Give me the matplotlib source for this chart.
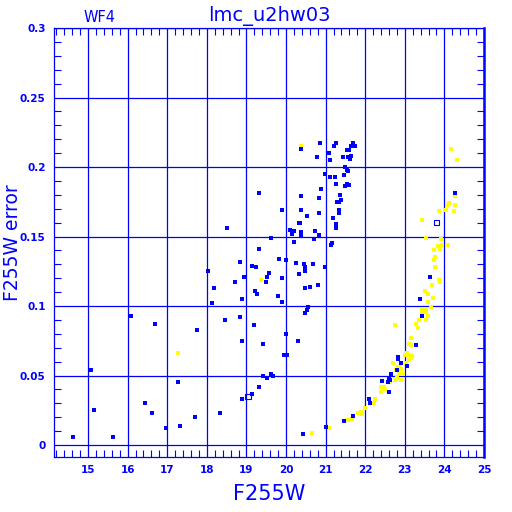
import matplotlib

matplotlib.use("Agg")
import matplotlib.pyplot as plt
from matplotlib.ticker import MultipleLocator, FixedLocator
import numpy as np

BLUE = "#0000ff"
YELLOW = "#ffff00"

# blue points: (F255W, F255W error)
blue_mag = [
    14.63, 15.08, 15.14, 15.62, 16.09, 16.44, 16.62, 16.68, 16.96, 17.28,
    17.33, 17.69, 17.74, 18.13, 18.17, 18.32, 18.47, 18.70, 19.33, 19.90,
    20.34, 18.52, 20.09, 20.19, 20.14, 19.61, 20.19, 19.33, 19.81, 20.00,
    20.26, 18.83, 19.15, 19.23, 18.03, 19.56, 20.32, 18.93, 19.53, 19.90,
    19.50, 19.21, 19.26, 19.79, 18.88, 19.89, 18.85, 19.20, 20.39, 20.86,
    21.20, 21.25, 21.63, 21.70, 21.73, 21.08, 21.53, 21.59, 20.78, 21.43,
    21.56, 21.65, 21.61, 21.11, 21.49, 21.53, 21.56, 20.99, 21.11, 21.24,
    21.46, 21.53, 21.58, 21.48, 21.26, 20.88, 21.36, 20.39, 20.83, 21.39,
    21.34, 21.30, 20.39, 21.33, 21.35, 20.83, 20.53, 21.18, 20.35, 21.26,
    21.26, 20.73, 20.39, 20.83, 20.38, 20.70, 21.15, 21.13, 20.56, 20.53,
    20.49, 20.00, 18.88, 19.43, 20.29, 19.95, 20.03, 19.41, 19.61, 19.66,
    19.51, 19.31, 19.13, 18.90, 20.42, 21.02, 20.45, 20.67, 20.49, 20.47,
    20.99, 20.47, 20.60, 20.82, 22.84, 22.82, 22.65, 22.62, 22.42, 22.59,
    22.09, 22.12, 21.70, 21.46, 24.28, 23.64, 23.38, 23.43, 23.28, 22.90,
    23.05, 22.59, 22.57, 22.81,
]
blue_err = [
    0.006, 0.054, 0.025, 0.006, 0.093, 0.030, 0.023, 0.087, 0.012, 0.045,
    0.014, 0.020, 0.083, 0.102, 0.113, 0.023, 0.090, 0.117, 0.181, 0.169,
    0.160, 0.156, 0.155, 0.154, 0.152, 0.149, 0.146, 0.141, 0.134, 0.133,
    0.131, 0.132, 0.129, 0.128, 0.125, 0.124, 0.123, 0.121, 0.121, 0.120,
    0.117, 0.111, 0.109, 0.107, 0.105, 0.103, 0.092, 0.086, 0.213, 0.217,
    0.215, 0.217, 0.215, 0.217, 0.215, 0.210, 0.212, 0.212, 0.207, 0.207,
    0.207, 0.208, 0.206, 0.205, 0.200, 0.198, 0.197, 0.195, 0.193, 0.193,
    0.194, 0.188, 0.187, 0.186, 0.188, 0.184, 0.180, 0.179, 0.178, 0.176,
    0.175, 0.175, 0.169, 0.169, 0.167, 0.167, 0.165, 0.163, 0.160, 0.159,
    0.156, 0.154, 0.153, 0.151, 0.151, 0.148, 0.145, 0.144, 0.0995, 0.097,
    0.095, 0.080, 0.075, 0.073, 0.075, 0.065, 0.065, 0.050, 0.051, 0.050,
    0.048, 0.042, 0.037, 0.033, 0.008, 0.013, 0.130, 0.130, 0.128, 0.125,
    0.128, 0.113, 0.114, 0.115, 0.063, 0.062, 0.051, 0.047, 0.046, 0.038,
    0.033, 0.030, 0.021, 0.017, 0.181, 0.121, 0.105, 0.093, 0.072, 0.059,
    0.057, 0.048, 0.045, 0.054,
]

# yellow points
yellow_mag = [
    17.28, 19.36, 20.39, 20.66, 21.08, 22.74, 22.69, 22.84, 22.90, 22.95,
    22.62, 22.39, 22.47, 22.49, 22.39, 22.24, 22.22, 21.99, 21.83, 21.92,
    21.56, 21.66, 24.28, 24.06, 24.11, 24.26, 23.86, 24.03, 24.24, 23.44,
    23.54, 23.91, 23.84, 23.94, 24.09, 23.89, 23.74, 23.75, 23.74, 23.75,
    23.86, 23.89, 23.69, 23.51, 23.59, 23.70, 23.59, 23.65, 23.43, 23.53,
    23.43, 23.53, 23.59, 23.35, 23.53, 23.28, 23.33, 23.15, 23.11, 23.16,
    23.05, 23.10, 23.17, 23.15, 23.00, 23.10, 23.03, 22.87, 22.90, 22.78,
    22.85, 22.75, 22.80, 22.90, 24.16, 24.31, 21.89,
]
yellow_err = [
    0.066, 0.119, 0.215, 0.009, 0.012, 0.086, 0.059, 0.056, 0.051, 0.051,
    0.045, 0.042, 0.042, 0.040, 0.038, 0.033, 0.030, 0.027, 0.023, 0.022,
    0.018, 0.019, 0.179, 0.173, 0.174, 0.173, 0.168, 0.169, 0.168, 0.162,
    0.149, 0.148, 0.143, 0.144, 0.144, 0.141, 0.140, 0.135, 0.133, 0.128,
    0.119, 0.1175, 0.115, 0.111, 0.109, 0.106, 0.103, 0.0995, 0.098, 0.098,
    0.095, 0.096, 0.093, 0.090, 0.090, 0.087, 0.084, 0.077, 0.073, 0.072,
    0.066, 0.065, 0.064, 0.0625, 0.065, 0.061, 0.059, 0.056, 0.055, 0.054,
    0.052, 0.047, 0.048, 0.047, 0.213, 0.205, 0.024,
]

# highlighted (open square) points
marked_mag = [19.04, 23.80]
marked_err = [0.035, 0.160]

x_ticks = [15, 16, 17, 18, 19, 20, 21, 22, 23, 24, 25]
y_ticks = [0, 0.05, 0.1, 0.15, 0.2, 0.25, 0.3]
y_tick_labels = ["0", "0.05", "0.1", "0.15", "0.2", "0.25", "0.3"]

fig = plt.figure(figsize=(5.12, 5.12), dpi=100)
ax = fig.add_axes([54 / 512, 55 / 512, 430 / 512, 429 / 512])

ax.scatter(yellow_mag, yellow_err, marker="s", s=5.5, color=YELLOW, linewidths=0, zorder=3)
ax.scatter(blue_mag, blue_err, marker="s", s=5.5, color=BLUE, linewidths=0, zorder=4)
ax.scatter(marked_mag, marked_err, marker="s", s=14, facecolors="none",
           edgecolors=BLUE, linewidths=0.8, zorder=5)

ax.set_xlim(14.14, 25)
ax.set_ylim(-0.0086, 0.3)

ax.xaxis.set_major_locator(FixedLocator(x_ticks))
ax.xaxis.set_minor_locator(MultipleLocator(0.2))
ax.yaxis.set_major_locator(FixedLocator(y_ticks))
ax.yaxis.set_minor_locator(MultipleLocator(0.01))
ax.set_yticklabels(y_tick_labels)

ax.tick_params(which="both", direction="in", top=True, right=True, color=BLUE,
               labelcolor=BLUE, labelsize=7.5)
ax.tick_params(which="major", length=0, pad=6)
ax.tick_params(which="minor", length=5, width=0.8)
for lab in ax.get_xticklabels() + ax.get_yticklabels():
    lab.set_fontweight("bold")

ax.grid(True, which="major", color=BLUE, linewidth=0.9)
ax.set_axisbelow(True)

for side, spine in ax.spines.items():
    spine.set_color(BLUE)
    spine.set_linewidth(0.9)
ax.spines["right"].set_linewidth(1.8)

ax.set_xlabel("F255W", color=BLUE, fontsize=15, labelpad=6)
ax.set_ylabel("F255W error", color=BLUE, fontsize=13.5)
ax.yaxis.set_label_coords(-32 / 430, 0.5)

fig.text(269 / 512, 1 - 16 / 512, "lmc_u2hw03", color=BLUE, fontsize=14,
         ha="center", va="center")
fig.text(100 / 512, 1 - 17 / 512, "WF4", color=BLUE, fontsize=10.5,
         ha="center", va="center")

fig.savefig("out.png", dpi=100, facecolor="white")
